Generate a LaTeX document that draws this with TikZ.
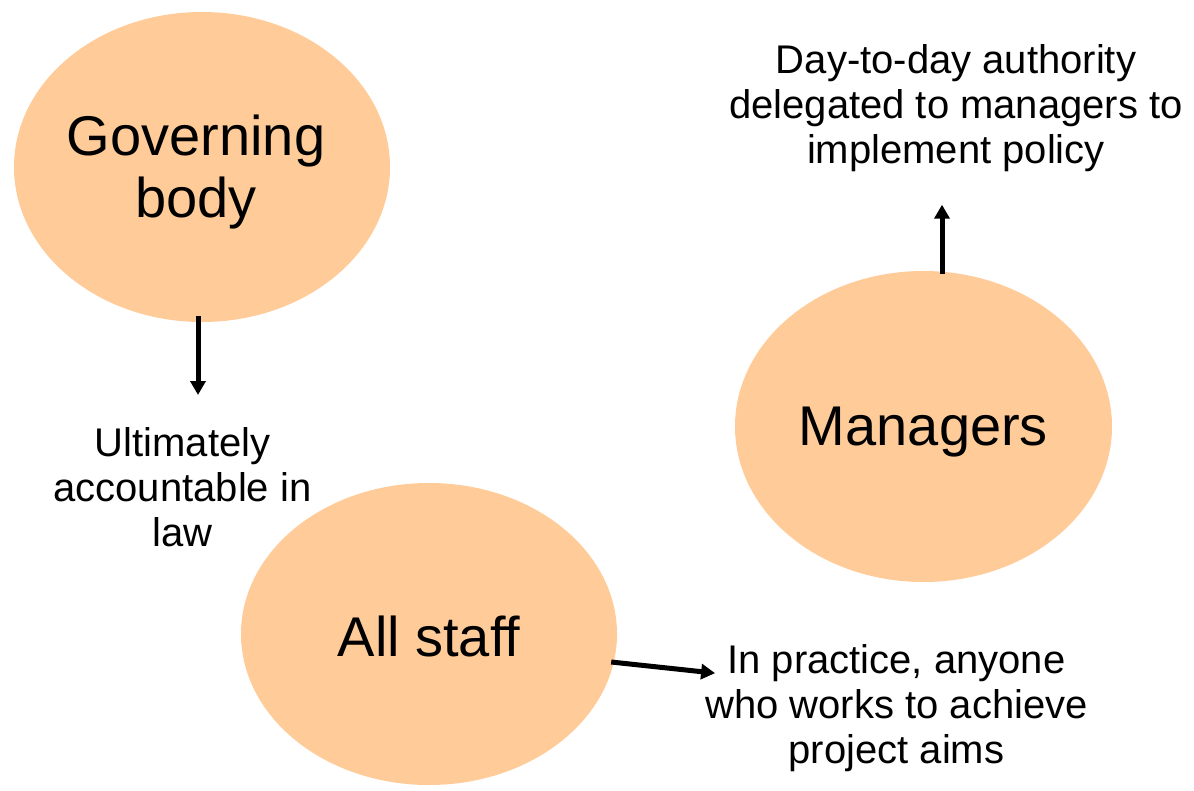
\documentclass[tikz,border=0pt]{standalone}
\usepackage{fontspec}
\setmainfont{Liberation Sans}
\usetikzlibrary{shapes.geometric,arrows.meta}
\definecolor{peach}{RGB}{255,204,153}
\tikzset{
  blob/.style={ellipse, fill=peach, draw=none, inner sep=0pt, text depth=0pt,
    align=center, font=\fontsize{56}{62}\selectfont},
  lab/.style={inner sep=0pt, align=center, font=\fontsize{40}{45}\selectfont},
  arr/.style={line width=5pt, -{Triangle[width=15pt,length=14pt]}}
}
\begin{document}
\begin{tikzpicture}[x=1pt,y=-1pt]
\useasboundingbox (0,0) rectangle (1194,790);
\fill[white] (0,0) rectangle (1194,790);
\node[blob, minimum width=376pt, minimum height=310pt] (gb) at (202,167) {\raisebox{2pt}{\hspace*{-12pt}Governing}\\\raisebox{2pt}{\hspace*{-12pt}body}};
\node[blob, minimum width=377pt, minimum height=311pt] (mg) at (923.5,426.5) {Managers};
\node[blob, minimum width=376pt, minimum height=302pt] (st) at (429,634) {\raisebox{-4pt}{All staff}};
\node[lab, anchor=north] (l1) at (182.5,427) {Ultimately\\accountable in\\law};
\node[lab, anchor=north] (l2) at (956,44) {Day-to-day authority\\delegated to managers to\\implement policy};
\node[lab, anchor=north] (l3) at (896.5,644) {In practice, anyone\\who works to achieve\\project aims};
\draw[arr] ([shift={(-4,-6)}]gb.south) -- ([shift={(15.5,-32)}]l1.north);
\draw[arr] ([shift={(18.5,3)}]mg.north) -- ([shift={(-14,33)}]l2.south);
\draw[arr] ([shift={(-6,28)}]st.east) -- ([shift={(10,-34.7)}]l3.west);
\end{tikzpicture}
\end{document}
